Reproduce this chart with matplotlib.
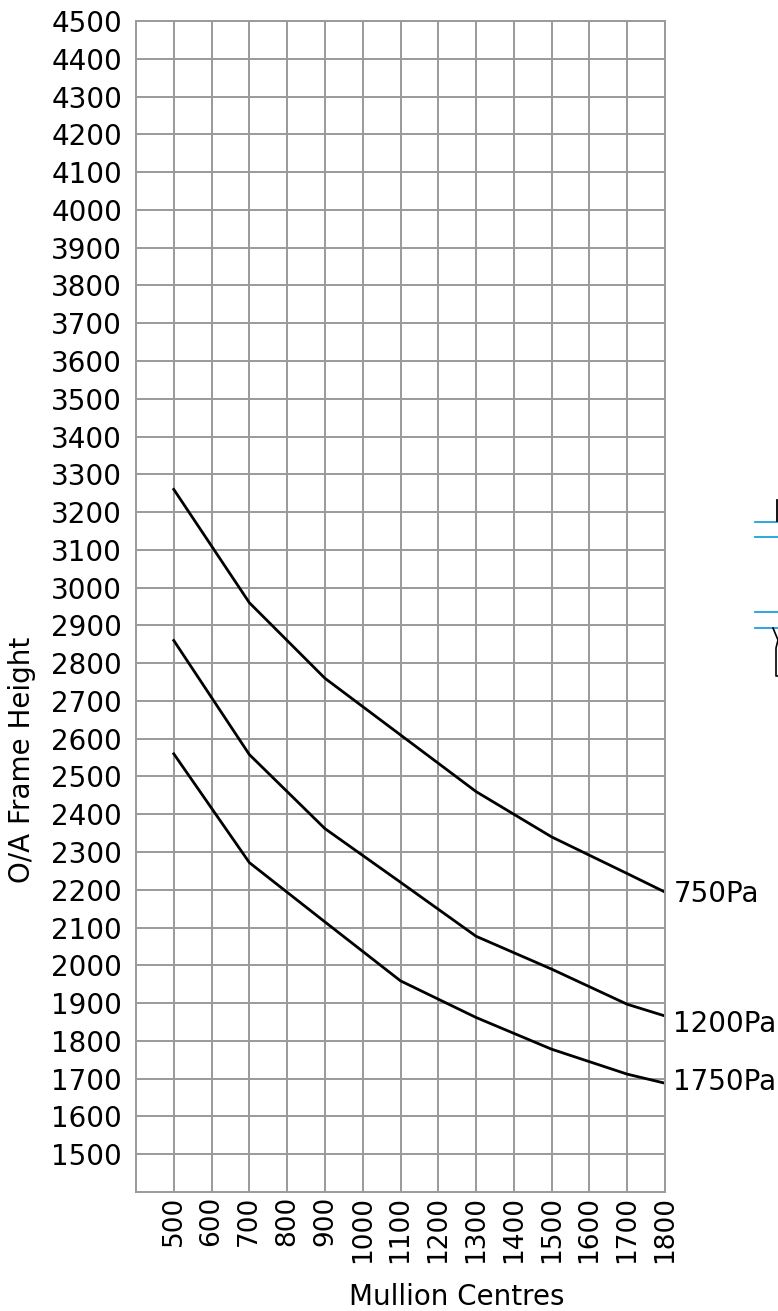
import matplotlib.pyplot as plt
from matplotlib.lines import Line2D

# Mullion centres (mm) where the curves change direction
centres = [500, 700, 900, 1100, 1300, 1500, 1700, 1800]

# O/A frame height (mm) for each wind load
h_750 = [3260, 2960, 2760, 2610, 2460, 2340, 2243, 2194]
h_1200 = [2860, 2558, 2362, 2220, 2077, 1990, 1897, 1866]
h_1750 = [2560, 2272, 2115, 1959, 1862, 1778, 1712, 1688]

series = [("750Pa", h_750, 2188), ("1200Pa", h_1200, 1844), ("1750Pa", h_1750, 1690)]

x_ticks = list(range(500, 1900, 100))
y_ticks = list(range(1500, 4600, 100))

W, H = 778, 1311
fig = plt.figure(figsize=(W / 100, H / 100), dpi=100)
ax = fig.add_axes([136 / W, 1 - 1192 / H, (665 - 136) / W, (1192 - 21) / H])

grey = "#9a9a9a"
fs = 20

ax.set_xlim(400, 1800)
ax.set_ylim(1400, 4500)
ax.set_xticks(x_ticks)
ax.set_yticks(y_ticks)
ax.set_xticklabels([str(v) for v in x_ticks], rotation=90, fontsize=fs - 1)
ax.set_yticklabels([str(v) for v in y_ticks], fontsize=fs)
ax.tick_params(length=0)
ax.tick_params(axis="y", pad=10)
ax.tick_params(axis="x", pad=3)
ax.grid(True, color=grey, lw=1.4)
ax.set_axisbelow(True)
for s in ax.spines.values():
    s.set_color(grey)
    s.set_linewidth(1.4)

for name, vals, label_y in series:
    ax.plot(centres, vals, color="black", lw=2.0)
    ax.text(1822, label_y, name, fontsize=fs, va="center", ha="left", clip_on=False)

fig.text(22 / W, 1 - 760 / H, "O/A Frame Height", rotation=90, fontsize=fs,
         ha="center", va="center")
fig.text(457 / W, 1 - 1297 / H, "Mullion Centres", fontsize=fs,
         ha="center", va="center")

# stray fragments of the drawing at the right edge
blue = "#1aa3dc"
for yy in (522, 537, 612, 628):
    fig.add_artist(Line2D([755 / W, 1.0], [1 - yy / H, 1 - yy / H],
                          color=blue, lw=1.3, transform=fig.transFigure))
fig.add_artist(Line2D([777 / W, 777 / W], [1 - 500 / H, 1 - 521 / H],
                      color="black", lw=1.3, transform=fig.transFigure))
fig.add_artist(Line2D([773 / W, 778 / W, 776 / W, 776 / W, 778 / W],
                      [1 - 628 / H, 1 - 640 / H, 1 - 648 / H, 1 - 676 / H, 1 - 676 / H],
                      color="black", lw=1.2, transform=fig.transFigure))

fig.savefig("out.png", dpi=100)
